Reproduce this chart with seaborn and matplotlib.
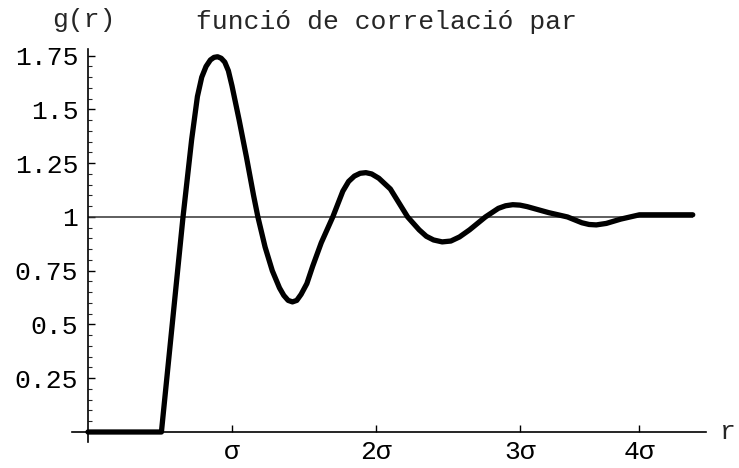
import numpy as np
import pandas as pd
import matplotlib
matplotlib.use("Agg")
import matplotlib.pyplot as plt
import seaborn as sns

# data (r in units of sigma-axis, g(r))
r_vals = [0.0, 0.50, 0.51, 0.60, 0.66, 0.72, 0.76, 0.79, 0.82, 0.85, 0.875, 0.90,
          0.925, 0.95, 0.975, 1.00, 1.05, 1.10, 1.15, 1.18, 1.23, 1.28, 1.33, 1.36,
          1.39, 1.42, 1.45, 1.48, 1.52, 1.56, 1.62, 1.70, 1.77, 1.81, 1.85, 1.89,
          1.93, 1.97, 2.02, 2.10, 2.22, 2.30, 2.35, 2.40, 2.46, 2.52, 2.58, 2.65,
          2.76, 2.85, 2.90, 2.95, 3.00, 3.05, 3.20, 3.33, 3.43, 3.48, 3.53, 3.60,
          3.70, 3.83, 4.20]
g_vals = [0.0, 0.0, 0.0, 0.60, 1.00, 1.36, 1.56, 1.65, 1.70, 1.73, 1.742, 1.745,
          1.738, 1.72, 1.68, 1.61, 1.45, 1.28, 1.10, 1.00, 0.86, 0.75, 0.67, 0.635,
          0.612, 0.605, 0.612, 0.64, 0.69, 0.77, 0.88, 1.00, 1.12, 1.165, 1.19, 1.203,
          1.206, 1.20, 1.18, 1.13, 1.00, 0.94, 0.91, 0.893, 0.884, 0.888, 0.907, 0.94,
          1.00, 1.04, 1.052, 1.057, 1.055, 1.048, 1.02, 1.00, 0.973, 0.965, 0.963, 0.97,
          0.99, 1.01, 1.01]

x_tick_pos = [1, 2, 3, 3.83]
x_tick_labels = ["σ", "2σ", "3σ", "4σ"]
y_tick_pos = [0.25, 0.5, 0.75, 1.0, 1.25, 1.5, 1.75]
y_tick_labels = ["0.25", "0.5", "0.75", "1", "1.25", "1.5", "1.75"]

title = "funció de correlació par"
ylabel = "g(r)"
xlabel = "r"

sns.set_style("white")
plt.rcParams["font.family"] = ["Liberation Mono", "DejaVu Sans"]

df = pd.DataFrame({"r": r_vals, "g": g_vals})

fig = plt.figure(figsize=(7.39, 4.68), dpi=100)
ax = fig.add_axes([72/739, 26/468, (706-72)/739, (442-49)/468])

ax.hlines(1.0, 0, r_vals[-1], color="#333333", lw=1.1, zorder=1)
sns.lineplot(data=df, x="r", y="g", ax=ax, color="black", lw=3.8,
             sort=False, estimator=None, zorder=3)

ax.set_xlim(-0.111, 4.292)
ax.set_ylim(-0.0465, 1.781)

for s in ["top", "right"]:
    ax.spines[s].set_visible(False)
ax.spines["left"].set_position(("data", 0))
ax.spines["bottom"].set_position(("data", 0))
for s in ["left", "bottom"]:
    ax.spines[s].set_color("black")
    ax.spines[s].set_linewidth(1.2)

fs = 19
ax.set_xticks(x_tick_pos)
ax.set_xticklabels(x_tick_labels, fontsize=fs)
ax.set_yticks(y_tick_pos)
ax.set_yticklabels(y_tick_labels, fontsize=fs)
ax.set_yticks(np.arange(0.05, 1.78, 0.05), minor=True)
ax.tick_params(axis="y", which="major", direction="in", length=5, width=1, pad=7,
               left=True, colors="black")
ax.tick_params(axis="y", which="minor", direction="in", length=3, width=0.8, left=True)
ax.tick_params(axis="x", which="major", direction="in", length=5, width=1, pad=6,
               bottom=True, colors="black")
ax.set_xlabel("")
ax.set_ylabel("")
ax.grid(False)

fig.text(84/739, 1 - 20/468, ylabel, fontsize=fs, ha="center", va="center")
fig.text(387/739, 1 - 22/468, title, fontsize=fs, ha="center", va="center")
fig.text(720/739, 1 - 432/468, xlabel, fontsize=fs, ha="left", va="center")

fig.savefig("out.png", dpi=100)
